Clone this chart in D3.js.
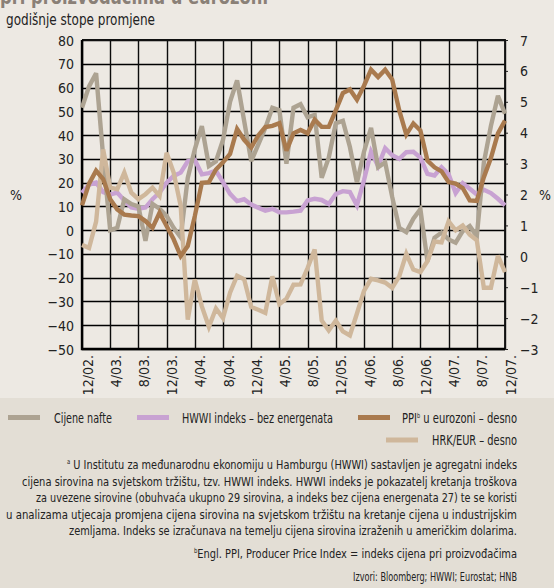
<!DOCTYPE html>
<html>
<head>
<meta charset="utf-8">
<script src="https://cdn.jsdelivr.net/npm/d3@7"></script>
<style>
  body { margin: 0; background: #ede9e3; }
  svg { display: block; }
  text { font-family: "Liberation Sans Narrow", "DejaVu Sans Condensed", "Roboto", sans-serif; fill: #222; }
</style>
</head>
<body>
<div id="chart"></div>
<script>
// monthly, 12/2002 .. 12/2007
var tickLabels = ["12/02.", "4/03.", "8/03.", "12/03.", "4/04.", "8/04.", "12/04.", "4/05.",
    "8/05.", "12/05.", "4/06.", "8/06.", "12/06.", "4/07.", "8/07.", "12/07."];

// left axis, %
var oil = [51.5, 60.5, 66, 31, 0, 1, 13, 11, 10, -4.5, 11, 9, 6, 1, -3, 22,
    34, 43.8, 27, 29, 38, 54, 63, 46, 29, 36, 43, 51.5, 50.5, 28, 51.5,
    53, 47.5, 48.5, 22, 30.5, 45, 46, 35, 20, 33, 43, 26.5, 28.5, 14, 1,
    -0.8, 4.8, 8.8, -13, -3.2, -1, -3.9, -5.3, -0.4, 1.7, -2.5, 28.4, 43.8, 56.5, 49];

var hwwi = [15.7, 19.2, 20, 16, 15, 15.8, 12.5, 9.5, 9, 9.5, 13, 15.8, 20, 22.8, 24.2, 29,
    29.5, 23.5, 24, 25, 20.2, 15.3, 12.2, 13, 10.8, 9.4, 8.2, 9, 7.5, 7.5, 7.8,
    8.2, 12.5, 13.2, 12.7, 11, 15.2, 16.4, 16, 10.4, 21, 33, 27, 34.5, 31.5, 30,
    32.8, 33, 30.5, 23.7, 23, 26.5, 23.5, 15.6, 19.8, 17.4, 15, 17, 15.6, 13.2, 10.4];

// right axis, %
var ppi = [1.65, 2.35, 2.77, 2.5, 1.85, 1.52, 1.35, 1.32, 1.3, 1.14, 0.92, 1.41, 0.98, 0.55, 0.01, 0.33,
    1.3, 2.38, 2.4, 2.81, 3.04, 3.31, 4.12, 3.77, 3.52, 3.91, 4.18, 4.22, 4.31, 3.42, 3.98,
    4.09, 3.98, 4.42, 4.19, 4.19, 4.72, 5.28, 5.4, 5.07, 5.52, 6.04, 5.8, 6.04, 5.72, 4.72,
    3.94, 4.3, 4.07, 3.1, 2.88, 2.75, 2.4, 2.35, 2.21, 1.81, 1.79, 2.56, 3.18, 3.98, 4.39];

var hrk = [0.37, 0.27, 1.12, 3.46, 2.22, 2.17, 2.71, 2.06, 1.85, 2.01, 2.22, 1.95, 3.35, 2.71, 1.63, -2.05,
    -0.75, -1.62, -2.28, -1.69, -2.0, -1.18, -0.63, -0.74, -1.64, -1.73, -1.83, -0.65, -1.55, -1.37, -0.92,
    -0.91, -0.38, 0.22, -2.08, -2.4, -2.08, -2.43, -2.56, -1.85, -1.12, -0.73, -0.78, -0.85, -1.02, -0.65,
    0.08, -0.43, -0.51, -0.16, 0.48, 0.45, 1.13, 0.84, 1.0, 0.7, 0.52, -1.02, -1.02, 0.02, -0.51];

var footnotes = [
    "U Institutu za međunarodnu ekonomiju u Hamburgu (HWWI) sastavljen je agregatni indeks",
    "cijena sirovina na svjetskom tržištu, tzv. HWWI indeks. HWWI indeks je pokazatelj kretanja troškova",
    "za uvezene sirovine (obuhvaća ukupno 29 sirovina, a indeks bez cijena energenata 27) te se koristi",
    "u analizama utjecaja promjena cijena sirovina na svjetskom tržištu na kretanje cijena u industrijskim",
    "zemljama. Indeks se izračunava na temelju cijena sirovina izraženih u američkim dolarima."
];

var W = 554, H = 588;
var pL = 82, pR = 505, pT = 40, pB = 349;

var svg = d3.select('#chart').append('svg')
    .attr('width', W)
    .attr('height', H);

svg.append('rect').attr('width', W).attr('height', H).attr('fill', '#ede9e3');
svg.append('rect').attr('x', 0).attr('y', 398).attr('width', W).attr('height', H - 398).attr('fill', '#e3ded5');

var x = d3.scaleLinear().domain([0, 60]).range([pL, pR]);
var yL = d3.scaleLinear().domain([-50, 80]).range([pB, pT]);
var yR = d3.scaleLinear().domain([-3, 7]).range([pB, pT]);

function fit(sel, w) {
    sel.attr('textLength', w).attr('lengthAdjust', 'spacingAndGlyphs');
}
function crisp(v) { return Math.round(v) + 0.5; }

// title (cut off at the top) and subtitle
svg.append('text')
    .attr('x', 0).attr('y', 4)
    .attr('style', 'font-size:22px;font-weight:bold;fill:#8a8077;')
    .text('pri proizvođačima u eurozoni')
    .call(fit, 268);

svg.append('text')
    .attr('x', 6).attr('y', 25)
    .attr('style', 'font-size:15px;')
    .text('godišnje stope promjene')
    .call(fit, 149);

// grid
var g = svg.append('g');
g.selectAll('.hgrid')
    .data(d3.range(-50, 81, 10))
    .enter().append('line')
    .attr('x1', pL).attr('x2', pR)
    .attr('y1', function (d) { return crisp(yL(d)); })
    .attr('y2', function (d) { return crisp(yL(d)); })
    .attr('stroke', '#000')
    .attr('stroke-width', 1.4);

g.selectAll('.vgrid')
    .data(d3.range(0, 61, 4))
    .enter().append('line')
    .attr('x1', function (d) { return crisp(x(d)); })
    .attr('x2', function (d) { return crisp(x(d)); })
    .attr('y1', pT).attr('y2', pB)
    .attr('stroke', '#0c0c0c')
    .attr('stroke-width', 1.4);

// axes
var axL = svg.append('g')
    .attr('transform', 'translate(' + pL + ',0)')
    .call(d3.axisLeft(yL).tickValues(d3.range(-50, 81, 10)).tickSize(0).tickPadding(8));
axL.select('.domain').remove();
axL.selectAll('text').attr('style', 'font-size:14px;').attr('dy', '0.36em');

var axR = svg.append('g')
    .attr('transform', 'translate(' + pR + ',0)')
    .call(d3.axisRight(yR).tickValues(d3.range(-3, 8, 1)).tickSize(3).tickPadding(12));
axR.select('.domain').remove();
axR.selectAll('line').attr('stroke', '#222');
axR.selectAll('text').attr('style', 'font-size:14px;').attr('dy', '0.36em');

var axB = svg.append('g')
    .attr('transform', 'translate(0,' + pB + ')')
    .call(d3.axisBottom(x).tickValues(d3.range(0, 61, 4)).tickSize(0)
        .tickFormat(function (d, i) { return tickLabels[i]; }));
axB.select('.domain').remove();
axB.selectAll('text')
    .attr('style', 'font-size:14px;')
    .attr('text-anchor', 'end')
    .attr('dy', null)
    .attr('y', 0)
    .attr('transform', 'translate(10,6) rotate(-90)');

// frame
svg.append('path')
    .attr('d', 'M' + pL + ',' + pT + 'H' + pR + 'V' + pB)
    .attr('fill', 'none').attr('stroke', '#111').attr('stroke-width', 1.8);
svg.append('path')
    .attr('d', 'M' + pL + ',' + pT + 'V' + pB + 'H' + pR)
    .attr('fill', 'none').attr('stroke', '#000').attr('stroke-width', 2.4);

svg.append('text').attr('x', 10).attr('y', 200).attr('style', 'font-size:14px;').text('%');
svg.append('text').attr('x', 539).attr('y', 200).attr('style', 'font-size:14px;').text('%');

// series
var series = [
    { values: hwwi, y: yL, color: '#c8a2d2' },
    { values: oil, y: yL, color: '#ada392' },
    { values: hrk, y: yR, color: '#cfb79b' },
    { values: ppi, y: yR, color: '#a97a4e' }
];

series.forEach(function (s) {
    var line = d3.line()
        .x(function (d, i) { return x(i); })
        .y(function (d) { return s.y(d); });
    svg.append('path')
        .datum(s.values)
        .attr('d', line)
        .attr('fill', 'none')
        .attr('stroke', s.color)
        .attr('stroke-width', 4.4)
        .attr('stroke-linejoin', 'miter')
        .attr('stroke-miterlimit', 3);
});

// legend
var legend = [
    { label: 'Cijene nafte', color: '#ada392', sx: 8, tx: 54, y: 417.5, w: 58 },
    { label: 'HWWI indeks – bez energenata', color: '#c8a2d2', sx: 137, tx: 182, y: 417.5, w: 151 },
    { label: 'PPI', sup: 'b', rest: ' u eurozoni – desno', color: '#a97a4e', sx: 358, tx: 402, y: 417.5, w: 115 },
    { label: 'HRK/EUR – desno', color: '#cfb79b', sx: 386, tx: 432, y: 440, w: 85 }
];

legend.forEach(function (l) {
    svg.append('rect')
        .attr('x', l.sx).attr('y', l.y - 2.5)
        .attr('width', 32).attr('height', 5)
        .attr('fill', l.color);
    var t = svg.append('text')
        .attr('x', l.tx).attr('y', l.y + 5)
        .attr('style', 'font-size:14px;');
    t.append('tspan').text(l.label);
    if (l.sup) {
        t.append('tspan').attr('dy', -5).attr('style', 'font-size:7px;').text(l.sup);
        t.append('tspan').attr('dy', 5).text(l.rest);
    }
    t.call(fit, l.w);
});

// footnotes
var fnWidths = [450, 495, 481, 511, 448];
footnotes.forEach(function (f, i) {
    var t = svg.append('text')
        .attr('x', 517).attr('y', 469 + i * 16.5)
        .attr('text-anchor', 'end')
        .attr('style', 'font-size:13px;');
    if (i === 0) {
        t.append('tspan').attr('dy', -5).attr('style', 'font-size:7px;').text('a');
        t.append('tspan').attr('dy', 5).text(' ' + f);
    } else {
        t.text(f);
    }
    t.call(fit, fnWidths[i]);
});

var ppiNote = svg.append('text')
    .attr('x', 517).attr('y', 558)
    .attr('text-anchor', 'end')
    .attr('style', 'font-size:13px;');
ppiNote.append('tspan').attr('dy', -5).attr('style', 'font-size:7px;').text('b');
ppiNote.append('tspan').attr('dy', 5).text('Engl. PPI, Producer Price Index = indeks cijena pri proizvođačima');
ppiNote.call(fit, 323);

svg.append('text')
    .attr('x', 517).attr('y', 581)
    .attr('text-anchor', 'end')
    .attr('style', 'font-size:13px;')
    .text('Izvori: Bloomberg; HWWI; Eurostat; HNB')
    .call(fit, 164);
</script>
</body>
</html>
